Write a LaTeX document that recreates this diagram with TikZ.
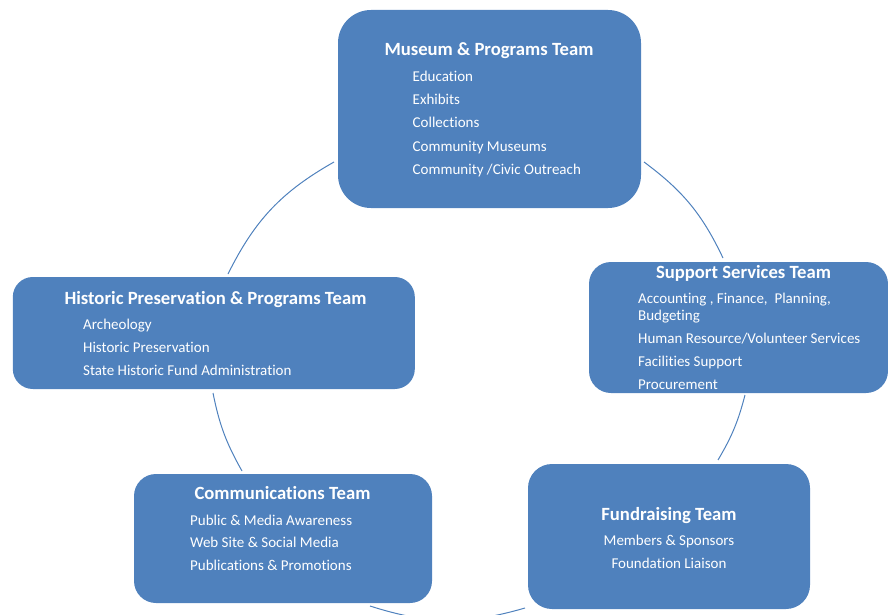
\documentclass[tikz,border=0pt]{standalone}
\usepackage{fontspec}
\setmainfont{Carlito}[Ligatures=NoCommon]
\definecolor{boxblue}{HTML}{4F81BD}
\begin{document}
\begin{tikzpicture}[x=1pt,y=-1pt,
  teambox/.style={fill=boxblue, draw=none, inner sep=0pt, rounded corners=#1},
  teamtitle/.style={text=white, inner sep=0pt, anchor=base, font=\bfseries\fontsize{18.67}{20}\selectfont},
  teamitem/.style={text=white, inner sep=0pt, anchor=base west, font=\fontsize{15}{17}\selectfont},
  teamitemc/.style={text=white, inner sep=0pt, anchor=base, font=\fontsize{15}{17}\selectfont},
  cyclearc/.style={draw=boxblue, line width=1pt}]
\useasboundingbox (0,0) rectangle (888,615);
\clip (0,0) rectangle (888,615);

% boxes
\node[teambox=33pt, minimum width=303pt, minimum height=198pt] (museum) at (489.5,109) {};
\node[teambox=22pt, minimum width=299pt, minimum height=131pt] (support) at (738.5,327.5) {};
\node[teambox=20pt, minimum width=402pt, minimum height=112pt] (historic) at (213.8,333) {};
\node[teambox=22pt, minimum width=298pt, minimum height=129pt] (comm) at (283,538.5) {};
\node[teambox=24pt, minimum width=282pt, minimum height=145pt] (fund) at (669,536.5) {};

% museum
\node[teamtitle] (museumT) at (489,56) {Museum \& Programs Team};
\node[teamitem] (m1) at (412.5,82) {Education};
\node[teamitem] (m2) at (412.5,105) {Exhibits};
\node[teamitem] (m3) at (412.5,128) {Collections};
\node[teamitem] (m4) at (412.5,151) {Community Museums};
\node[teamitem] (m5) at (412.5,174) {Community /Civic Outreach};

% support
\node[teamtitle] (supportT) at (743.5,278) {Support Services Team};
\node[teamitem] (s1) at (638,303) {Accounting , Finance,\ \ Planning,};
\node[teamitem] (s2) at (638,320) {Budgeting};
\node[teamitem] (s3) at (638,343) {Human Resource/Volunteer Services};
\node[teamitem] (s4) at (638,366) {Facilities Support};
\node[teamitem] (s5) at (638,389) {Procurement};

% historic
\node[teamtitle] (historicT) at (215.5,304) {Historic Preservation \& Programs Team};
\node[teamitem] (h1) at (83,329) {Archeology};
\node[teamitem] (h2) at (83,352) {Historic Preservation};
\node[teamitem] (h3) at (83,375) {State Historic Fund Administration};

% communications
\node[teamtitle] (commT) at (282.5,499) {Communications Team};
\node[teamitem] (c1) at (190,525) {Public \& Media Awareness};
\node[teamitem] (c2) at (190,547.5) {Web Site \& Social Media};
\node[teamitem] (c3) at (190,570.5) {Publications \& Promotions};

% fundraising
\node[teamtitle] (fundT) at (669,520) {Fundraising Team};
\node[teamitemc] (f1) at (669,545) {Members \& Sponsors};
\node[teamitemc] (f2) at (669,568) {Foundation Liaison};

% arc end points
\coordinate (a1s) at (334,162);
\coordinate (a1e) at (228,274);
\coordinate (a2s) at (213,393);
\coordinate (a2e) at (242,471);
\coordinate (a3s) at (370,606);
\coordinate (a3e) at (525,608);
\coordinate (a4s) at (718,460);
\coordinate (a4e) at (745,395);
\coordinate (a5s) at (723,258);
\coordinate (a5e) at (644,162);

\draw[cyclearc] (a1s) to[bend right=17] (a1e);
\draw[cyclearc] (a2s) to[bend right=9] (a2e);
\draw[cyclearc] (a3s) to[bend right=17] (a3e);
\draw[cyclearc] (a4s) to[bend right=8] (a4e);
\draw[cyclearc] (a5s) to[bend right=14] (a5e);
\end{tikzpicture}
\end{document}
